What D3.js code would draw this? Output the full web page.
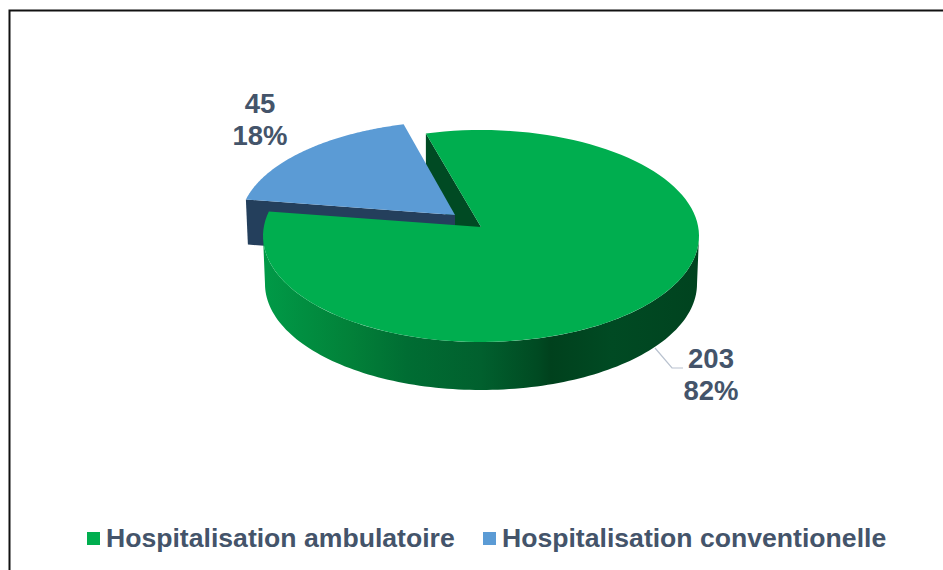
<!DOCTYPE html>
<html>
<head>
<meta charset="utf-8">
<script src="https://cdn.jsdelivr.net/npm/d3@7"></script>
<style>
  html, body { margin: 0; padding: 0; background: #fff; }
  svg { display: block; }
  text { font-family: "Liberation Sans", Arial, sans-serif; font-weight: bold; fill: #44546a; }
</style>
</head>
<body>
<script>
const categories = ["Hospitalisation ambulatoire", "Hospitalisation conventionelle"];
const values = [203, 45];
const percents = ["82%", "18%"];
const sliceColors = ["#00ae4f", "#5b9bd5"];

const w = 943;
const h = 570;
const depth = 48;
const firstAngle = (-15.9 * Math.PI) / 180;

const svg = d3.select("body").append("svg").attr("width", w).attr("height", h);

// frame, open on the right and bottom
svg.append("path")
  .attr("d", `M9.5,${h} V10.5 H${w}`)
  .attr("fill", "none")
  .attr("stroke", "#111")
  .attr("stroke-width", 2);

const pie = d3.pie().sort(null).startAngle(firstAngle).endAngle(firstAngle + 2 * Math.PI);
const slices = pie(values);
const green = slices[0];
const blue = slices[1];

// ellipse of each slice: the apex sits above the ellipse centre (perspective)
const greenShape = { cx: 481, cy: 236, rx: 218, ry: 106, ax: 481, ay: 227 };
const blueShape = { cx: 459, cy: 223, rx: 219, ry: 102, ax: 455, ay: 215 };

// the 3d tilt squeezes angles a little towards the sides
const warp = (a) => a - 0.08 * Math.sin(a);

const pt = (s, a, dy = 0, shrink = 0) => [
  s.cx + (s.rx - shrink) * Math.sin(a),
  s.cy + dy - s.ry * Math.cos(a),
];
const line = d3.line();
const arcPts = (s, a0, a1, dy = 0, shrink = 0) =>
  d3.range(0, 121).map((i) => pt(s, a0 + ((a1 - a0) * i) / 120, dy, shrink));

const defs = svg.append("defs");
const grad = defs.append("linearGradient")
  .attr("id", "rim")
  .attr("gradientUnits", "userSpaceOnUse")
  .attr("x1", 263).attr("x2", 699).attr("y1", 0).attr("y2", 0);
[
  [0, "#009a47"],
  [0.2, "#028139"],
  [0.33, "#006d33"],
  [0.5, "#01602e"],
  [0.63, "#004a22"],
  [0.66, "#00411d"],
  [0.8, "#004a23"],
  [1, "#00431f"],
].forEach((d) => grad.append("stop").attr("offset", d[0]).attr("stop-color", d[1]));

// inner wall of the green slice, seen through the gap
const gs = pt(greenShape, warp(green.startAngle));
svg.append("path")
  .attr("d", line([gs, [gs[0], gs[1] + depth], [greenShape.ax, greenShape.ay + depth], [greenShape.ax, greenShape.ay]]) + "Z")
  .attr("fill", "#004a23");

// blue side, then blue top
const bl = pt(blueShape, warp(blue.startAngle));
svg.append("path")
  .attr("d", line([bl, [blueShape.ax, blueShape.ay], [blueShape.ax, blueShape.ay + 45], [bl[0] + 2, bl[1] + 45]]) + "Z")
  .attr("fill", "#243f5c");
svg.append("path")
  .attr("d", line([[blueShape.ax, blueShape.ay], ...arcPts(blueShape, warp(blue.startAngle), warp(blue.endAngle))]) + "Z")
  .attr("fill", sliceColors[1]);

// green rim, then green top
const topEdge = arcPts(greenShape, Math.PI / 2, (3 * Math.PI) / 2);
const bottomEdge = arcPts(greenShape, (3 * Math.PI) / 2, Math.PI / 2, depth, 2);
svg.append("path").attr("d", line([...topEdge, ...bottomEdge]) + "Z").attr("fill", "url(#rim)");
svg.append("path")
  .attr("d", line([[greenShape.ax, greenShape.ay], ...arcPts(greenShape, warp(green.startAngle), warp(green.endAngle))]) + "Z")
  .attr("fill", sliceColors[0]);

// leader line of the green label
svg.append("path")
  .attr("d", "M655,348 L672,368 H683")
  .attr("fill", "none")
  .attr("stroke", "#b9c2cf")
  .attr("stroke-width", 1.2);

// data labels
const labelPos = [
  { x: 711, y: 368 },
  { x: 260, y: 113 },
];
values.forEach((v, i) => {
  const t = svg.append("text")
    .attr("text-anchor", "middle")
    .attr("font-size", 27.5)
    .attr("x", labelPos[i].x)
    .attr("y", labelPos[i].y);
  t.append("tspan").text(v);
  t.append("tspan").attr("x", labelPos[i].x).attr("dy", 32).text(percents[i]);
});

// legend
const legendX = [87, 483];
categories.forEach((c, i) => {
  svg.append("rect")
    .attr("x", legendX[i]).attr("y", 532)
    .attr("width", 13).attr("height", 13)
    .attr("fill", sliceColors[i]);
  svg.append("text")
    .attr("x", legendX[i] + 19).attr("y", 547)
    .attr("font-size", 26.6)
    .text(c);
});
</script>
</body>
</html>
